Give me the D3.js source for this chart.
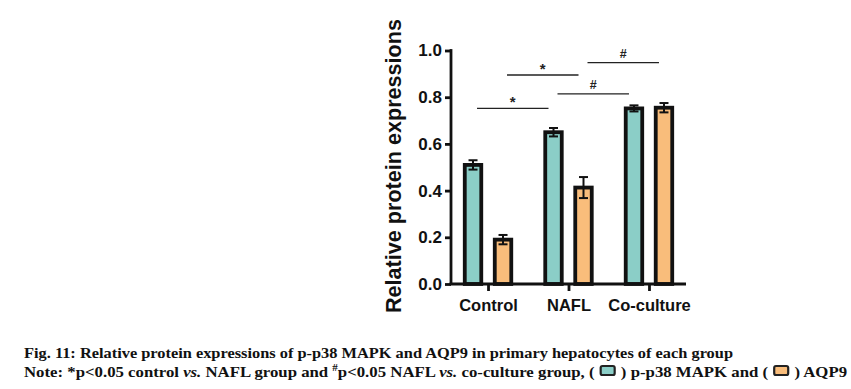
<!DOCTYPE html>
<html>
<head>
<meta charset="utf-8">
<script src="https://cdn.jsdelivr.net/npm/d3@7"></script>
<style>
  body { margin: 0; background: #fff; }
  svg { display: block; }
  .axis path, .axis line { stroke: #111; stroke-width: 2.8; }
  .axis text { font-family: "Liberation Sans", Arial, sans-serif; font-weight: bold; fill: #111; }
</style>
</head>
<body>
<svg id="chart" width="851" height="389"></svg>
<script>
const groups = ["Control", "NAFL", "Co-culture"];
const series = ["p-p38 MAPK", "AQP9"];
const mapkValues = [0.51, 0.65, 0.752];
const mapkErrors = [0.02, 0.018, 0.013];
const aqp9Values = [0.19, 0.413, 0.755];
const aqp9Errors = [0.02, 0.045, 0.02];
const yTicks = [0, 0.2, 0.4, 0.6, 0.8, 1.0];
const colors = ["#8bcec7", "#f9bd7b"];

// significance brackets: from (group, series) to (group, series), at height y
const brackets = [
  { from: ["Control", 0], to: ["NAFL", 0], y: 0.752, label: "*" },
  { from: ["Control", 1], to: ["NAFL", 1], y: 0.895, label: "*" },
  { from: ["NAFL", 0], to: ["Co-culture", 0], y: 0.814, label: "#" },
  { from: ["NAFL", 1], to: ["Co-culture", 1], y: 0.948, label: "#" }
];

const bars = [];
groups.forEach((g, i) => {
  bars.push({ group: g, s: 0, value: mapkValues[i], err: mapkErrors[i] });
  bars.push({ group: g, s: 1, value: aqp9Values[i], err: aqp9Errors[i] });
});

const svg = d3.select("#chart");
const plotLeft = 451, plotRight = 686, plotTop = 50.5, plotBottom = 284;

const x = d3.scalePoint().domain(groups).range([plotLeft, plotRight]).padding(0.46);
const xs = d3.scaleBand().domain([0, 1]).range([-30, 30]).paddingInner(0.45).paddingOuter(0.225);
const y = d3.scaleLinear().domain([0, 1]).range([plotBottom, plotTop]);
const barX = (g, s) => x(g) + xs(s) + xs.bandwidth() / 2;

// bars
svg.append("g").selectAll("rect")
  .data(bars)
  .join("rect")
  .attr("x", d => barX(d.group, d.s) - xs.bandwidth() / 2)
  .attr("y", d => y(d.value))
  .attr("width", xs.bandwidth())
  .attr("height", d => y(0) - y(d.value))
  .attr("fill", d => colors[d.s])
  .attr("stroke", "#111")
  .attr("stroke-width", 3.8);

// error bars
const eb = svg.append("g").attr("stroke", "#111").attr("stroke-width", 2);
const capW = 4.5;
bars.forEach(d => {
  const cx = barX(d.group, d.s);
  eb.append("line").attr("x1", cx).attr("x2", cx)
    .attr("y1", y(d.value + d.err)).attr("y2", y(d.value - d.err));
  eb.append("line").attr("x1", cx - capW).attr("x2", cx + capW)
    .attr("y1", y(d.value + d.err)).attr("y2", y(d.value + d.err));
  eb.append("line").attr("x1", cx - capW).attr("x2", cx + capW)
    .attr("y1", y(d.value - d.err)).attr("y2", y(d.value - d.err));
});

// axes
const yAxis = svg.append("g").attr("class", "axis")
  .attr("transform", `translate(${plotLeft},0)`)
  .call(d3.axisLeft(y).tickValues(yTicks).tickFormat(d3.format(".1f")).tickSize(6).tickPadding(3));
yAxis.selectAll("text").style("font-size", "17px");
yAxis.select(".domain").attr("d", `M0,${y(1) - 1.4}V${plotBottom}`);

const xAxis = svg.append("g").attr("class", "axis")
  .attr("transform", `translate(0,${plotBottom})`)
  .call(d3.axisBottom(x).tickSize(7).tickPadding(8));
xAxis.selectAll("text").style("font-size", "16.5px");
xAxis.select(".domain").attr("d", `M${plotLeft - 1.4},0H${plotRight}`);

// y-axis title
svg.append("text")
  .attr("transform", `translate(401,166) rotate(-90)`)
  .attr("text-anchor", "middle")
  .style("font-family", "'Liberation Sans', Arial, sans-serif")
  .style("font-weight", "bold")
  .style("font-size", "21.6px")
  .attr("fill", "#111")
  .text("Relative protein expressions");

// significance brackets
const bg = svg.append("g");
brackets.forEach(b => {
  const x1 = barX(b.from[0], b.from[1]) + 4;
  const x2 = barX(b.to[0], b.to[1]) - 5;
  bg.append("line").attr("x1", x1).attr("x2", x2)
    .attr("y1", y(b.y)).attr("y2", y(b.y))
    .attr("stroke", "#222").attr("stroke-width", 1.3);
  bg.append("text")
    .attr("x", (x1 + x2) / 2).attr("y", y(b.y) - (b.label === "*" ? 1 : 5))
    .attr("text-anchor", "middle")
    .style("font-family", "'Liberation Sans', Arial, sans-serif")
    .style("font-weight", "bold")
    .style("font-size", b.label === "*" ? "15px" : "12.5px")
    .attr("fill", "#222")
    .text(b.label);
});

// caption
const capFont = "'Liberation Serif', 'Times New Roman', serif";
const capSize = 15.2;
svg.append("text")
  .attr("x", 24).attr("y", 358)
  .attr("textLength", 709).attr("lengthAdjust", "spacingAndGlyphs")
  .style("font-family", capFont).style("font-weight", "bold").style("font-size", capSize + "px")
  .attr("fill", "#111")
  .text("Fig. 11: Relative protein expressions of p-p38 MAPK and AQP9 in primary hepatocytes of each group");

const segs = [
  { t: "Note: *p<0.05 control " },
  { t: "vs.", it: true },
  { t: " NAFL group and " },
  { t: "#", sup: true },
  { t: "p<0.05 NAFL " },
  { t: "vs.", it: true },
  { t: " co-culture group, ( " },
  { box: 0 },
  { t: " ) p-p38 MAPK and ( " },
  { box: 1 },
  { t: " ) AQP9" }
];
const boxW = 14, boxH = 9, boxGap = 2;
const noteX = 24, noteY = 376.5, noteW = 823;
const note = svg.append("g");
segs.forEach(s => {
  if (s.box !== undefined) return;
  s.el = note.append("text")
    .attr("y", s.sup ? -6 : 0)
    .style("font-family", capFont).style("font-weight", "bold")
    .style("font-size", s.sup ? "10px" : capSize + "px")
    .style("font-style", s.it ? "italic" : "normal")
    .style("white-space", "pre")
    .attr("fill", "#111")
    .text(s.t);
  s.w = s.el.node().getComputedTextLength();
});
const textW = d3.sum(segs, s => s.w || 0);
const nBoxes = segs.filter(s => s.box !== undefined).length;
const sx = (noteW - nBoxes * (boxW + 2 * boxGap)) / textW;
let cx = noteX;
segs.forEach(s => {
  if (s.box !== undefined) {
    note.append("rect")
      .attr("x", cx + boxGap).attr("y", noteY - 10.5).attr("width", boxW).attr("height", boxH)
      .attr("rx", 1.8)
      .attr("fill", colors[s.box]).attr("stroke", "#222").attr("stroke-width", 2.2);
    cx += boxW + 2 * boxGap;
    return;
  }
  s.el.attr("transform", `translate(${cx},${noteY}) scale(${sx},1)`);
  cx += s.w * sx;
});
</script>
</body>
</html>
